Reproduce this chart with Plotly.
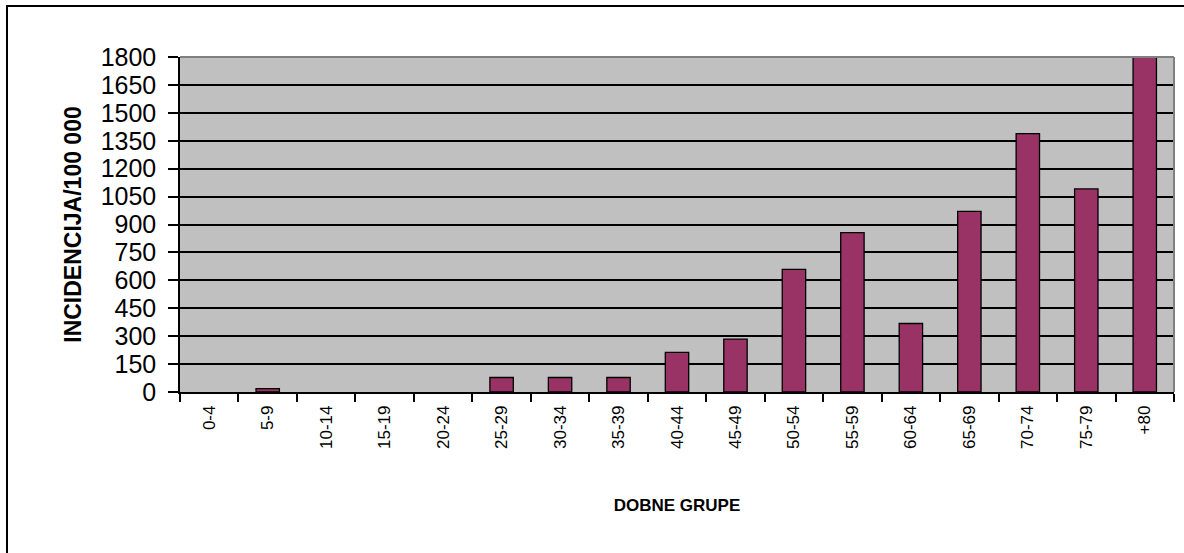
import plotly.graph_objects as go

categories = ["0-4", "5-9", "10-14", "15-19", "20-24", "25-29", "30-34", "35-39",
              "40-44", "45-49", "50-54", "55-59", "60-64", "65-69", "70-74", "75-79", "+80"]
incidence = [0, 18, 0, 0, 0, 78, 78, 78, 213, 284, 659, 856, 368, 971, 1388, 1091, 1810]
y_ticks = list(range(0, 1801, 150))

W, H = 1184, 553
L, R, T, B = 180, 10, 57, 161
pw, ph = W - L - R, H - T - B

def px_x(X):
    return (X - L) / pw

def px_y(Y):
    return (H - B - Y) / ph

fig = go.Figure()
fig.add_trace(go.Bar(
    x=categories, y=incidence, width=0.4,
    marker=dict(color="#993366",
                line=dict(color="black", width=[1.3 if v > 0 else 0 for v in incidence])),
    cliponaxis=False,
))

FONT = "Liberation Sans, Arial, sans-serif"
fig.update_layout(
    width=W, height=H,
    margin=dict(l=L, r=R, t=T, b=B, pad=0, autoexpand=False),
    paper_bgcolor="white", plot_bgcolor="#C0C0C0",
    showlegend=False,
    font=dict(family=FONT, color="black"),
    bargap=0.6,
)
fig.update_xaxes(
    type="category", tickangle=-90, tickson="boundaries", automargin=False,
    ticks="outside", ticklen=8, tickwidth=1.5, tickcolor="black",
    ticklabelstandoff=5,
    showline=True, linecolor="black", linewidth=1.5,
    showgrid=False,
    tickfont=dict(size=17, family=FONT, color="black"),
    title=dict(text="<b>DOBNE GRUPE</b>", font=dict(size=17, family=FONT, color="black"), standoff=51),
)
fig.update_yaxes(
    range=[0, 1800], tickvals=y_ticks, ticktext=[str(v) for v in y_ticks], automargin=False,
    ticks="outside", ticklen=10, tickwidth=1.5, tickcolor="black",
    ticklabelstandoff=7,
    showline=True, linecolor="black", linewidth=1.5,
    showgrid=True, gridcolor="black", gridwidth=1.5,
    zeroline=False,
    tickfont=dict(size=25, family=FONT, color="black"),
    title=dict(text="<b>INCIDENCIJA/100 000</b>", font=dict(size=23, family=FONT, color="black"), standoff=13),
)

# plot area top/right border (gray)
fig.add_shape(type="line", xref="paper", yref="paper", x0=0, x1=1, y0=1, y1=1,
              line=dict(color="#808080", width=2))
fig.add_shape(type="line", xref="paper", yref="paper", x0=1, x1=1, y0=0, y1=1,
              line=dict(color="#808080", width=2))
# outer chart border
fig.add_shape(type="rect", xref="paper", yref="paper",
              x0=px_x(7), x1=px_x(W + 5), y0=px_y(H + 5), y1=px_y(6),
              line=dict(color="black", width=2), fillcolor="rgba(0,0,0,0)", layer="above")

fig.write_html("out.html", config={"displayModeBar": False},
               post_script="document.body.style.margin='0';document.body.style.overflow='hidden';")
